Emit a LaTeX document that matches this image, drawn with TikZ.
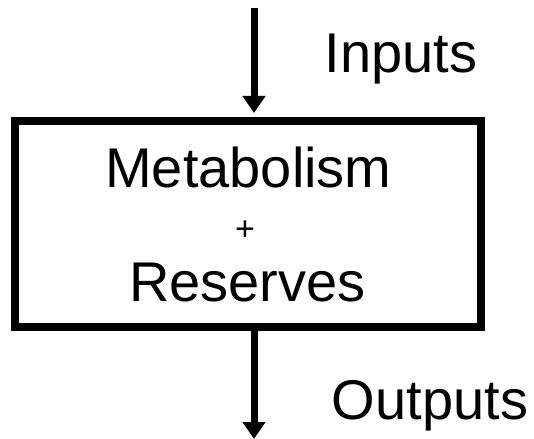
\documentclass[tikz,border=0pt]{standalone}
\usepackage{fontspec}
\setmainfont{Liberation Sans}
\usetikzlibrary{arrows.meta}
\begin{document}
\begin{tikzpicture}[x=1bp,y=-1bp,
  bigtext/.style={font=\fontsize{56bp}{60bp}\selectfont, inner sep=0pt, anchor=base},
  arr/.style={line width=7bp, -{Triangle[width=22bp,length=17bp]}},
  boxstyle/.style={draw, line width=8bp, rectangle, inner sep=0pt, minimum width=466bp, minimum height=206bp}]
\useasboundingbox (0,0) rectangle (534,439);
\node[boxstyle] (box) at (248,224) {};
\node[bigtext] (inputs) at (401,73) {Inputs};
\node[bigtext] (metab) at (248.5,188) {Metabolism};
\node[font=\fontsize{34bp}{36bp}\selectfont, inner sep=0pt] (plus) at (245,231) {+};
\node[bigtext] (reserves) at (247.5,301) {Reserves};
\node[bigtext] (outputs) at (430,419) {Outputs};
\coordinate (topstart) at (254,8);
\coordinate (botend) at (254,439);
\draw[arr, shorten >=4bp] (topstart) -- (box.north -| topstart);
\draw[arr] (box.south -| botend) -- (botend);
\end{tikzpicture}
\end{document}
